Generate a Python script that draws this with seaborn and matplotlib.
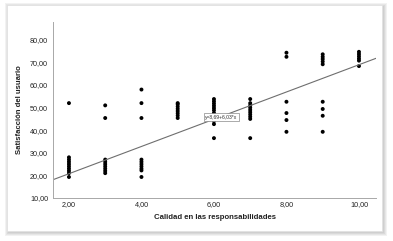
import matplotlib
matplotlib.use("Agg")
import matplotlib.pyplot as plt
import seaborn as sns
import pandas as pd
from matplotlib.patches import Rectangle

# ---- data ----
calidad_levels = [2, 3, 4, 5, 6, 7, 8, 9, 10]
sat_2 = [52, 19.3, 21, 22, 23, 24, 25, 26, 27, 28]
sat_3 = [51, 45.4, 21, 22, 23, 24, 25, 26, 27]
sat_4 = [58, 52, 45.4, 23, 24, 25, 26, 27, 22.2, 19.3]
sat_5 = [45.4, 46.5, 47.5, 48.5, 49.5, 50.5, 51.5, 52]
sat_6 = [53.8, 52.8, 51.8, 50.8, 49.8, 48.8, 47.6, 44, 42.7, 36.5]
sat_7 = [53.8, 52, 51, 50, 49, 48, 47, 46, 45, 36.5]
sat_8 = [74.3, 72.5, 52.6, 47.6, 44.5, 39.3]
sat_9 = [73.6, 72.5, 71.5, 70.4, 69.2, 52.6, 49.4, 46.4, 39.3]
sat_10 = [74.7, 73.7, 72.7, 71.7, 70.8, 68.4]
sat_groups = [sat_2, sat_3, sat_4, sat_5, sat_6, sat_7, sat_8, sat_9, sat_10]

fit_intercept = 8.69
fit_slope = 6.03
fit_label = "y=8,69+6,03*x"

x_ticks = [2, 4, 6, 8, 10]
x_ticklabels = ["2,00", "4,00", "6,00", "8,00", "10,00"]
y_ticks = [10, 20, 30, 40, 50, 60, 70, 80]
y_ticklabels = ["10,00", "20,00", "30,00", "40,00", "50,00", "60,00", "70,00", "80,00"]

rows = []
for xv, ys in zip(calidad_levels, sat_groups):
    for yv in ys:
        rows.append({"Calidad": xv, "Satisfaccion": yv})
df = pd.DataFrame(rows)

sns.set_theme(style="white")
plt.rcParams["font.family"] = ["Liberation Sans", "DejaVu Sans"]

W, H = 393, 241
fig = plt.figure(figsize=(W / 100, H / 100), dpi=100)
fig.patch.set_facecolor("white")

# card with soft shadow
for i, (pad, col) in enumerate([(4, "#f2f2f2"), (3, "#e6e6e6"), (2, "#d9d9d9"), (1, "#cfcfcf")]):
    fig.patches.append(Rectangle(((7 - pad + 2) / W, 1 - (232 + pad) / H),
                                 (376 + 2 * pad - 2) / W, (227 + 2 * pad - 2) / H,
                                 transform=fig.transFigure, facecolor=col,
                                 edgecolor="none", zorder=0))
fig.patches.append(Rectangle((7 / W, 1 - 231 / H), 375 / W, 226 / H,
                             transform=fig.transFigure, facecolor="white",
                             edgecolor="#e0e0e0", linewidth=0.5, zorder=0.5))

ax = fig.add_axes([53 / W, 1 - 198 / H, (376 - 53) / W, (198 - 22) / H])
ax.set_facecolor("none")
ax.set_zorder(2)

sns.scatterplot(data=df, x="Calidad", y="Satisfaccion", ax=ax, color="black",
                s=8, edgecolor="none", linewidth=0, legend=False)

xlim = (1.56, 10.47)
ax.set_xlim(*xlim)
ax.set_ylim(10, 87.9)
sns.lineplot(x=list(xlim), y=[fit_intercept + fit_slope * v for v in xlim], ax=ax,
             color="#6e6e6e", linewidth=0.8)

ax.set_xticks(x_ticks)
ax.set_xticklabels(x_ticklabels)
ax.set_yticks(y_ticks)
ax.set_yticklabels(y_ticklabels)
ax.tick_params(axis="x", length=0, labelsize=5.2, colors="#222222", pad=2.5)
ax.tick_params(axis="y", length=0, labelsize=5.2, colors="#222222", pad=3.5)

for s in ["top", "right"]:
    ax.spines[s].set_visible(False)
for s in ["left", "bottom"]:
    ax.spines[s].set_color("#a8a8a8")
    ax.spines[s].set_linewidth(0.7)

ax.set_xlabel("Calidad en las responsabilidades", fontsize=5.6, fontweight="bold",
              color="#222222", labelpad=4)
ax.set_ylabel("Satisfacción del usuario", fontsize=5.6, fontweight="bold",
              color="#222222", labelpad=5)

ax.text(6.2, fit_intercept + fit_slope * 6.2 - 0.3, fit_label, fontsize=3.6,
        ha="center", va="center", color="#333333", zorder=5,
        bbox=dict(boxstyle="square,pad=0.3", facecolor="white",
                  edgecolor="#888888", linewidth=0.5))

fig.savefig("out.png", dpi=100)
